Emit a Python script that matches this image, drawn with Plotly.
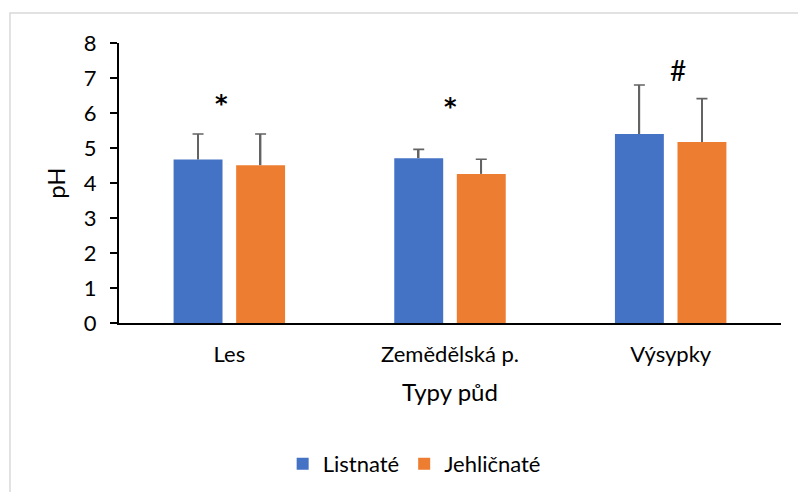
import plotly.graph_objects as go

categories = ["Les", "Zemědělská p.", "Výsypky"]
listnate = [4.67, 4.71, 5.40]
listnate_err = [0.73, 0.25, 1.40]
jehlicnate = [4.51, 4.26, 5.17]
jehlicnate_err = [0.89, 0.42, 1.24]
marks = ["<b>*</b>", "<b>*</b>", "#"]
mark_x = [-0.034, 0.0, 0.033]
mark_y = [6.25, 6.18, 7.24]

BLUE = "#4472C4"
ORANGE = "#ED7D31"
ERRC = "#636363"
FONT = "Lato"

fig = go.Figure()
no_err = [0] * len(categories)
series = [
    ("Listnaté", listnate, listnate_err, BLUE, "a"),
    ("Jehličnaté", jehlicnate, jehlicnate_err, ORANGE, "b"),
]
for name, vals, errs, col, grp in series:
    fig.add_trace(go.Bar(
        x=categories, y=vals, name=name, offsetgroup=grp,
        marker=dict(color=col, line=dict(width=0)),
    ))
# upward-only error whiskers: thin bar from the mean up by the error, plus a cap
for name, vals, errs, col, grp in series:
    fig.add_trace(go.Bar(
        x=categories, y=errs, base=vals, offsetgroup=grp, width=0.0072,
        showlegend=False, hoverinfo="skip",
        marker=dict(color=ERRC, line=dict(width=0)),
        error_y=dict(type="data", symmetric=False, array=no_err, arrayminus=no_err,
                     color=ERRC, thickness=1.6, width=5.5),
    ))

for i, (m, dx, y) in enumerate(zip(marks, mark_x, mark_y)):
    fam = "DejaVu Sans" if "*" in m else FONT
    size = 24 if "*" in m else 28
    fig.add_annotation(x=i + dx, y=y, xref="x", yref="y", text=m,
                       showarrow=False,
                       font=dict(family=fam, size=size, color="#000000"))

# chart border (only left/top visible in reference)
fig.add_shape(type="rect", xref="paper", yref="paper",
              x0=-0.1647, x1=1.05, y0=-0.65, y1=1.107,
              line=dict(color="#D9D9D9", width=1.5), layer="below")

TICK = 22
fig.update_layout(
    width=798, height=492,
    margin=dict(l=119, r=17, t=43, b=169, autoexpand=False),
    paper_bgcolor="white", plot_bgcolor="white",
    barmode="group", bargap=0.433, bargroupgap=0.218,
    font=dict(family=FONT, size=TICK, color="#000000"),
    showlegend=True,
    legend=dict(orientation="h", xref="container", yref="container",
                x=0.519, xanchor="center", y=0.057, yanchor="middle",
                font=dict(family=FONT, size=TICK), traceorder="normal"),
    xaxis=dict(showline=True, linecolor="#000000", linewidth=2, ticks="",
               automargin=False, tickfont=dict(size=TICK), ticklabelstandoff=11,
               title=dict(text="Typy půd", font=dict(size=24), standoff=18)),
    yaxis=dict(range=[0, 8], dtick=1, showgrid=False, zeroline=False,
               automargin=False,
               showline=True, linecolor="#000000", linewidth=2,
               ticks="outside", ticklen=7, tickwidth=2, tickcolor="#000000",
               tickfont=dict(size=TICK), ticklabelstandoff=9,
               title=dict(text="pH", font=dict(size=24), standoff=11)),
)

fig.write_html("out.html", config={"displayModeBar": False},
               post_script="document.body.style.margin='0';document.body.style.overflow='hidden';")
